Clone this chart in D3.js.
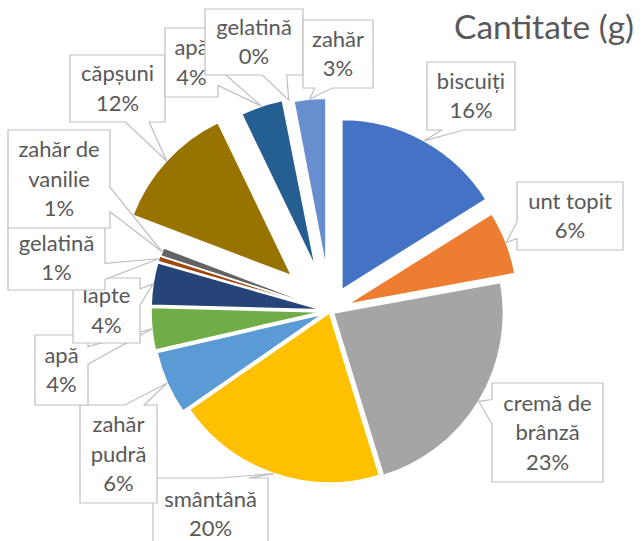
<!DOCTYPE html>
<html>
<head>
<meta charset="utf-8">
<script src="https://cdn.jsdelivr.net/npm/d3@7"></script>
<style>
  html, body { margin: 0; padding: 0; background: #fff; }
  svg { display: block; }
</style>
</head>
<body>
<div id="chart"></div>
<script>
// Chart data (shares, in % of total grams)
const title = "Cantitate (g)";
const categories = ["biscuiți", "unt topit", "cremă de brânză", "smântână", "zahăr pudră",
  "apă", "lapte", "gelatină", "zahăr de vanilie", "căpșuni", "apă", "gelatină", "zahăr"];
const shares = [16, 6, 23, 20, 6, 4, 4, 0.55, 0.8, 12, 4, 0.1, 3];
// how each label name is wrapped inside its callout
const labelLines = [["biscuiți"], ["unt topit"], ["cremă de", "brânză"], ["smântână"],
  ["zahăr", "pudră"], ["apă"], ["lapte"], ["gelatină"], ["zahăr de", "vanilie"],
  ["căpșuni"], ["apă"], ["gelatină"], ["zahăr"]];

// Office theme slice colours
const colors = ["#4472C4", "#ED7D31", "#A5A5A5", "#FFC000", "#5B9BD5", "#70AD47",
  "#264478", "#9E480E", "#636363", "#997300", "#255E91", "#43682B", "#698ED0"];

// Layout: pie centre, radius, how far each point is pulled out, callout boxes [l, t, r, b]
const width = 643, height = 541;
const cx = 330, cy = 311, radius = 170;
const explode = [24.5, 19, 4, 2, 8, 9, 9, 9, 8, 52, 46, 45, 43];
const calloutBoxes = [
  [427, 62, 515, 130], [517, 182, 623, 250], [492, 383, 603, 482], [153, 478, 268, 550],
  [80, 405, 157, 503], [35, 335, 88, 405], [73, 278, 140, 343], [8, 226, 105, 290],
  [8, 130, 110, 228], [70, 55, 165, 122], [165, 28, 218, 97], [205, 9, 303, 75],
  [303, 20, 373, 88]
];

const data = categories.map((c, i) => ({ name: c, share: shares[i], lines: labelLines[i], i }));
const total = d3.sum(shares);

const svg = d3.select("#chart").append("svg")
    .attr("width", width)
    .attr("height", height)
    .style("font-family", "Lato, 'Open Sans', sans-serif");

const pie = d3.pie().sort(null).value(d => d.share);
const arc = d3.arc().innerRadius(0).outerRadius(radius);
const arcs = pie(data);

// unit vector for a d3 pie angle (0 = 12 o'clock, clockwise)
const dir = a => [Math.sin(a), -Math.cos(a)];

arcs.forEach(a => {
  const mid = (a.startAngle + a.endAngle) / 2;
  const [ux, uy] = dir(mid);
  a.ox = cx + ux * explode[a.index];
  a.oy = cy + uy * explode[a.index];
  a.tip = [a.ox + ux * radius, a.oy + uy * radius];
});

// Slices
svg.append("g")
  .selectAll("path")
  .data(arcs)
  .join("path")
    .attr("transform", d => `translate(${d.ox},${d.oy})`)
    .attr("d", arc)
    .attr("fill", d => colors[d.index])
    .attr("stroke", "#fff")
    .attr("stroke-width", 1.5)
    .attr("stroke-linejoin", "round");

// Rectangle callout with a wedge pointing at the slice (like Excel's wedgeRectCallout)
function calloutPath(box, tip) {
  const [l, t, r, b] = box;
  const w = r - l, h = b - t;
  const dx = tip[0] - (l + r) / 2, dy = tip[1] - (t + b) / 2;
  const dz = Math.abs(dy) - Math.abs(dx) * h / w;
  const x1 = l + w * (dx > 0 ? 7 : 2) / 12, x2 = l + w * (dx > 0 ? 10 : 5) / 12;
  const y1 = t + h * (dy > 0 ? 7 : 2) / 12, y2 = t + h * (dy > 0 ? 10 : 5) / 12;
  const pts = [[l, t]];
  if (dz > 0 && dy < 0) pts.push([x1, t], tip, [x2, t]);
  pts.push([r, t]);
  if (dz <= 0 && dx > 0) pts.push([r, y1], tip, [r, y2]);
  pts.push([r, b]);
  if (dz > 0 && dy > 0) pts.push([x2, b], tip, [x1, b]);
  pts.push([l, b]);
  if (dz <= 0 && dx < 0) pts.push([l, y2], tip, [l, y1]);
  return d3.line()(pts) + "Z";
}

const fontSize = 22, lineH = 29.5;

const labels = svg.append("g")
  .selectAll("g")
  .data(arcs)
  .join("g");

labels.append("path")
    .attr("d", d => calloutPath(calloutBoxes[d.index], d.tip))
    .attr("fill", "#fff")
    .attr("stroke", "#BFBFBF")
    .attr("stroke-width", 1.2)
    .attr("stroke-linejoin", "miter");

labels.each(function(d) {
  const [l, t, r, b] = calloutBoxes[d.index];
  const lines = d.data.lines.concat([Math.round(d.data.share / total * 100) + "%"]);
  const y0 = (t + b) / 2 - (lines.length - 1) * lineH / 2;
  d3.select(this).append("text")
      .attr("text-anchor", "middle")
      .attr("fill", "#595959")
      .style("font-size", fontSize + "px")
    .selectAll("tspan")
    .data(lines)
    .join("tspan")
      .attr("x", (l + r) / 2)
      .attr("y", (s, k) => y0 + k * lineH)
      .attr("dy", "0.35em")
      .text(s => s);
});

// Title
svg.append("text")
    .attr("x", 454)
    .attr("y", 39)
    .attr("fill", "#595959")
    .style("font-size", "33.5px")
    .text(title);
</script>
</body>
</html>
